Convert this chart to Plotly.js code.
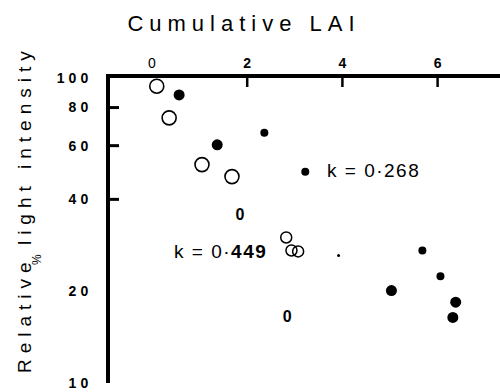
<!DOCTYPE html>
<html><head><meta charset="utf-8">
<script src="https://cdn.plot.ly/plotly-3.0.1.min.js"></script>
<style>
html,body{margin:0;padding:0;background:#fff;}
#wrap{position:relative;width:500px;height:392px;}
#chart{width:500px;height:392px;}
#ticks{position:absolute;left:0;top:0;width:500px;height:392px;pointer-events:none;z-index:50;}
.gtitle{letter-spacing:6px;}
.yaxislayer-above text{letter-spacing:4px;}
</style></head><body><div id="wrap"><div id="chart"></div></div>
<script>
// Open circles (upper series)
const openX = [0.10, 0.36, 1.05, 1.68];
const openY = [94, 74, 52, 47.5];
// Open circles, clustered group
const clusterX = [2.82, 2.93, 3.07];
const clusterY = [30.0, 27.2, 27.0];
// Filled circles (large)
const filledX = [0.57, 1.37, 5.03, 6.38, 6.32];
const filledY = [88, 60.4, 20.1, 18.4, 16.4];
// Filled circles (small)
const smallX = [2.36, 3.22, 5.68, 6.06];
const smallY = [66.1, 49.3, 27.2, 22.4];
// Tiny dot
const tinyX = [3.92];
const tinyY = [26.2];
// Printed "0" marks
const zeroX = [1.85, 2.84];
const zeroY = [35.4, 16.3];
const zeroText = ['0', '0'];
// Ticks
const xTickVals = [0, 2, 4, 6];
const xTickText = ['0', '<b>2</b>', '<b>4</b>', '<b>6</b>'];
const xMarkVals = [2, 4, 6];
const yTickVals = [10, 20, 40, 60, 80, 100];
const yTickText = ['10', '20', '40', '60', '80', '100'];
const yMarkVals = [40, 60, 80];
// Slope labels
const kText = ['k = 0·268', 'k = 0·<b>449</b>'];
const kX = [3.64, 0.42];
const kY = [49.7, 27.0];

const FONT = 'Liberation Sans, Arial, sans-serif';
const L = 110, T = 78, B = 9, W = 500, H = 392;
const plotW = W - L, plotH = H - T - B;
const PXX = 47.6;
const xr = [(L - 152) / PXX, (W - 152) / PXX];

const traces = [
  {x: openX, y: openY, mode: 'markers', type: 'scatter',
   marker: {symbol: 'circle-open', size: 14, color: '#000', line: {width: 1.6, color: '#000'}}},
  {x: clusterX, y: clusterY, mode: 'markers', type: 'scatter',
   marker: {symbol: 'circle-open', size: 11, color: '#000', line: {width: 1.5, color: '#000'}}},
  {x: filledX, y: filledY, mode: 'markers', type: 'scatter',
   marker: {symbol: 'circle', size: 11, color: '#000'}},
  {x: smallX, y: smallY, mode: 'markers', type: 'scatter',
   marker: {symbol: 'circle', size: 8, color: '#000'}},
  {x: tinyX, y: tinyY, mode: 'markers', type: 'scatter',
   marker: {symbol: 'circle', size: 3, color: '#000'}},
  {x: zeroX, y: zeroY, text: zeroText, mode: 'text', type: 'scatter',
   textposition: 'middle center', textfont: {family: FONT, size: 16, color: '#000', weight: 'bold'}}
];

const layout = {
  width: W, height: H,
  margin: {l: L, r: 0, t: T, b: B, pad: 0},
  paper_bgcolor: '#fff', plot_bgcolor: '#fff',
  showlegend: false,
  font: {family: FONT, color: '#000'},
  title: {text: 'Cumulative LAI', font: {family: FONT, size: 22, color: '#000'},
          xref: 'container', yref: 'container', x: 244 / W, y: 1 - 23 / H,
          xanchor: 'center', yanchor: 'middle'},
  xaxis: {range: xr, side: 'top', showline: true, linewidth: 4, linecolor: '#000',
          ticks: '', tickvals: xTickVals, ticktext: xTickText,
          tickfont: {family: FONT, size: 14, color: '#000'},
          showgrid: false, zeroline: false},
  yaxis: {type: 'log', range: [1, 2], showline: true, linewidth: 4, linecolor: '#000',
          ticks: '', tickvals: yTickVals, ticktext: yTickText,
          tickfont: {family: FONT, size: 14, color: '#000', weight: 'bold'},
          ticklabelstandoff: 11,
          showgrid: false, zeroline: false},
  annotations: [
    {text: '<span style="letter-spacing:6px">Relative light intensity</span>',
     textangle: -90, xref: 'paper', yref: 'paper',
     x: (24 - L) / plotW, y: (H - B - 209) / plotH, xanchor: 'center', yanchor: 'middle',
     showarrow: false, font: {family: FONT, size: 19, color: '#000'}},
    {text: '%', textangle: -90, xref: 'paper', yref: 'paper',
     x: (37 - L) / plotW, y: (H - B - 260) / plotH, xanchor: 'center', yanchor: 'middle',
     showarrow: false, font: {family: FONT, size: 12, color: '#000'}}
  ].concat(kText.map((t, i) => ({
     text: '<span style="letter-spacing:1.5px">' + t + '</span>',
     xref: 'x', yref: 'y', x: kX[i], y: Math.log10(kY[i]),
     xanchor: 'left', yanchor: 'middle', showarrow: false,
     font: {family: FONT, size: 19, color: '#000'}})))
};

Plotly.newPlot('chart', traces, layout, {displayModeBar: false, staticPlot: true}).then(gd => {
  // Inward tick marks placed through Plotly's own axis scales
  const NS = 'http://www.w3.org/2000/svg';
  const xa = gd._fullLayout.xaxis, ya = gd._fullLayout.yaxis;
  const svg = document.createElementNS(NS, 'svg');
  svg.setAttribute('id', 'ticks');
  svg.setAttribute('width', W); svg.setAttribute('height', H);
  const addLine = (x1, y1, x2, y2, w) => {
    const ln = document.createElementNS(NS, 'line');
    ln.setAttribute('x1', x1); ln.setAttribute('y1', y1);
    ln.setAttribute('x2', x2); ln.setAttribute('y2', y2);
    ln.setAttribute('stroke', '#000'); ln.setAttribute('stroke-width', w);
    svg.appendChild(ln);
  };
  const top = ya._offset, left = xa._offset;
  xMarkVals.forEach(v => {
    const px = xa._offset + xa.l2p(v);
    addLine(px, top - 2, px, top + 9, 2.5);
  });
  yMarkVals.forEach(v => {
    const py = ya._offset + ya.l2p(Math.log10(v));
    addLine(left - 2, py, left + 9, py, 3);
  });
  document.getElementById('wrap').appendChild(svg);
});
</script></body></html>
